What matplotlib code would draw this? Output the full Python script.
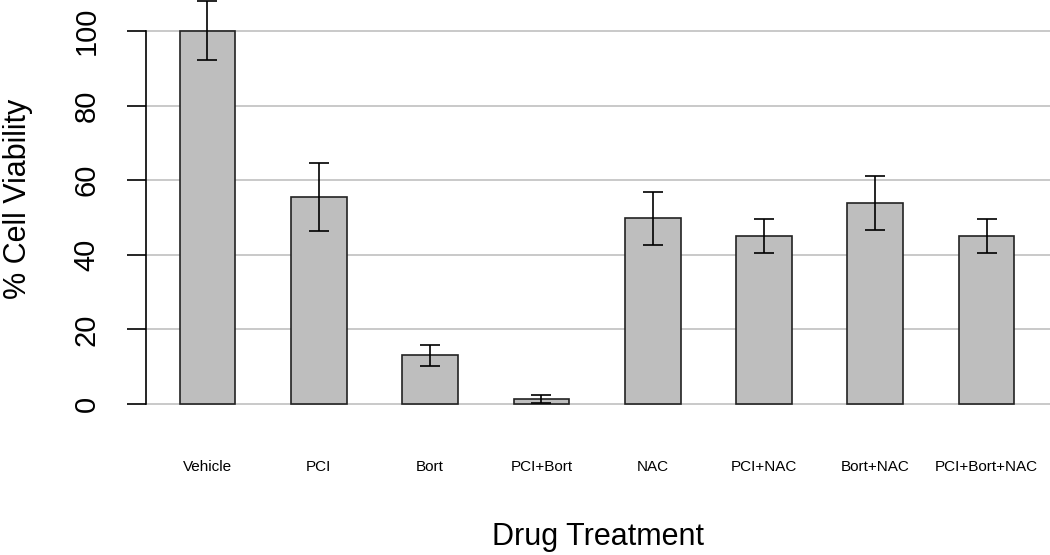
import matplotlib.pyplot as plt
import numpy as np

plt.rcParams['font.family'] = ['Liberation Sans', 'DejaVu Sans']

# data
treatments = ['Vehicle', 'PCI', 'Bort', 'PCI+Bort', 'NAC', 'PCI+NAC', 'Bort+NAC', 'PCI+Bort+NAC']
viability = [100, 55.5, 13.1, 1.3, 49.8, 45.0, 53.8, 45.0]
errors = [7.9, 9.1, 2.8, 1.0, 7.1, 4.5, 7.2, 4.5]
y_ticks = [0, 20, 40, 60, 80, 100]

fig = plt.figure(figsize=(10.5, 5.55), dpi=100)
ax = fig.add_axes([0.139, 0.2654, 0.861, 0.7346])

x = np.arange(len(treatments))

# grey gridlines behind bars
for v in y_ticks:
    ax.axhline(v, color='#c0c0c0', lw=1.2, zorder=0)

ax.bar(x, viability, width=0.5, color='#bebebe', edgecolor='#222222', linewidth=1.2, zorder=2)
ax.errorbar(x, viability, yerr=errors, fmt='none', ecolor='black', elinewidth=1.2,
            capsize=7.5, capthick=1.2, zorder=3)

ax.set_xlim(-0.553, 7.57)
ax.set_ylim(-1, 108.3)

for s in ['top', 'right', 'bottom']:
    ax.spines[s].set_visible(False)
ax.spines['left'].set_bounds(0, 100)
ax.spines['left'].set_linewidth(1.2)

ax.set_yticks(y_ticks)
ax.set_yticklabels([str(v) for v in y_ticks], rotation=90, va='center', fontsize=21)
ax.tick_params(axis='y', length=13.7, width=1.2, pad=19)

ax.set_xticks(x)
ax.set_xticklabels(treatments, fontsize=11)
ax.tick_params(axis='x', length=0, pad=38)

fig.text(0.57, 0.032, 'Drug Treatment', fontsize=22, ha='center', va='center')
fig.text(0.017, 0.642, '% Cell Viability', fontsize=22, rotation=90, ha='center', va='center')

fig.savefig('out.png', dpi=100)
